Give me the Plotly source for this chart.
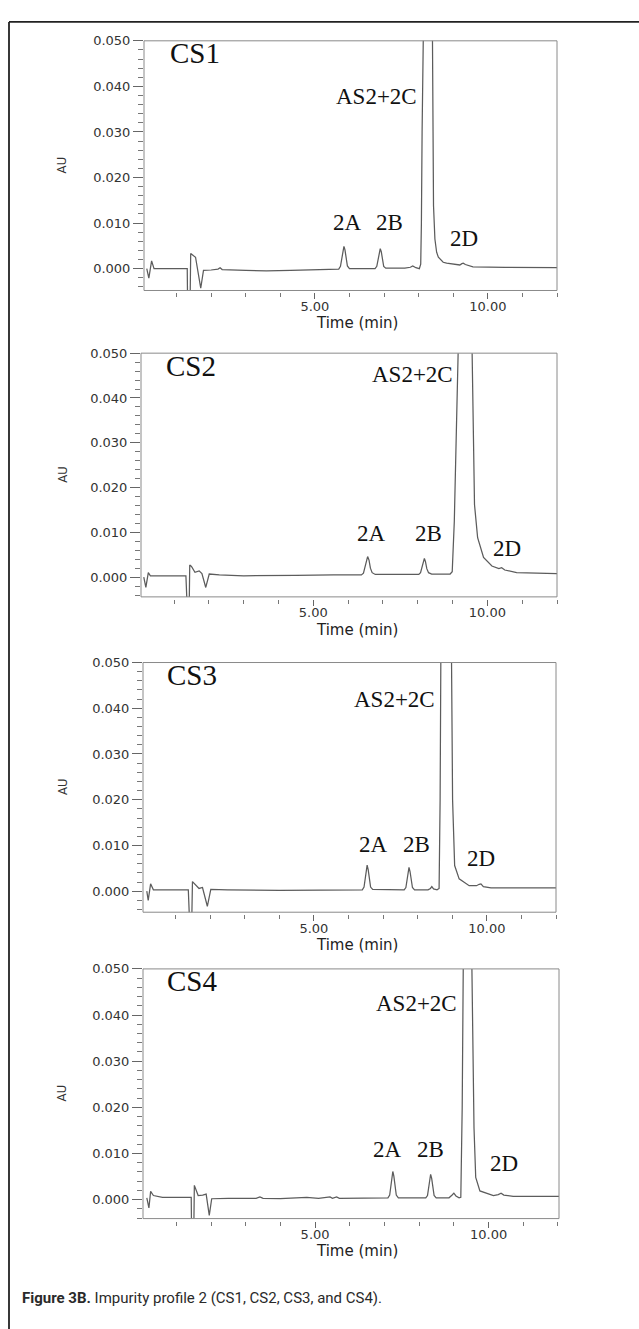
import plotly.graph_objects as go

# ---------------- data ----------------
panel_names = ["CS1", "CS2", "CS3", "CS4"]

t_cs1 = [0.14, 0.20, 0.28, 0.35, 1.29, 1.31, 1.33, 1.38, 1.41, 1.47, 1.55, 1.70, 1.78, 2.00, 2.20, 2.26,
         2.32, 3.00, 3.60, 4.30, 5.00, 5.60,
         5.69, 5.74, 5.78, 5.81, 5.84, 5.87, 5.90, 5.94, 6.00,
         6.60, 6.74, 6.79, 6.83, 6.86, 6.89, 6.92, 6.95, 6.99, 7.05,
         7.60, 7.76, 7.83, 7.92, 8.02, 8.06, 8.08, 8.10, 8.11, 8.25, 8.40, 8.43, 8.47, 8.52, 8.57,
         8.71, 8.81, 9.19, 9.25, 9.29, 9.35, 9.57, 10.50, 12.00]
au_cs1 = [0.0000, -0.0021, 0.0017, 0.0000, 0.0000, 0.0000, -0.0150, -0.0150, 0.0033, 0.0029, 0.0025,
          -0.0043, -0.0004, -0.0003, -0.0001, 0.0002, -0.0002, -0.0004, -0.0005, -0.0004, -0.0002, -0.0001,
          -0.0001, 0.0005, 0.0022, 0.0041, 0.0049, 0.0041, 0.0022, 0.0006, 0.0000,
          0.0000, 0.0000, 0.0005, 0.0020, 0.0037, 0.0044, 0.0037, 0.0020, 0.0005, 0.0001,
          0.0001, 0.0003, 0.0006, 0.0002, 0.0000, 0.0010, 0.0100, 0.0300, 0.0500, 0.1200, 0.0500,
          0.0138, 0.0065, 0.0036, 0.0025, 0.0014, 0.0012, 0.0008, 0.0011, 0.0012, 0.0009, 0.0004,
          0.0003, 0.0002]

t_cs2 = [0.13, 0.19, 0.26, 0.32, 1.34, 1.37, 1.42, 1.45, 1.50, 1.60, 1.72, 1.80, 1.91, 2.01, 2.30, 3.00,
         3.68, 4.50, 5.58, 6.30,
         6.38, 6.44, 6.48, 6.52, 6.56, 6.60, 6.64, 6.69, 6.78,
         7.60, 7.90,
         8.03, 8.08, 8.12, 8.16, 8.19, 8.22, 8.26, 8.31, 8.40,
         8.93, 8.99, 9.05, 9.10, 9.16, 9.36, 9.57, 9.59, 9.63, 9.72, 9.89, 10.13, 10.33, 10.41, 10.50,
         10.84, 12.00]
au_cs2 = [0.0000, -0.0023, 0.0010, 0.0003, 0.0003, -0.0150, -0.0150, 0.0027, 0.0024, 0.0011, 0.0014,
          0.0008, -0.0023, 0.0007, 0.0005, 0.0003, 0.0003, 0.0004, 0.0005, 0.0005,
          0.0005, 0.0009, 0.0022, 0.0039, 0.0046, 0.0038, 0.0020, 0.0010, 0.0006,
          0.0006, 0.0006,
          0.0006, 0.0010, 0.0022, 0.0036, 0.0042, 0.0035, 0.0019, 0.0010, 0.0007,
          0.0007, 0.0012, 0.0125, 0.0300, 0.0500, 0.1500, 0.0500, 0.0310, 0.0162, 0.0088, 0.0044,
          0.0025, 0.0019, 0.0021, 0.0016, 0.0010, 0.0008]

t_cs3 = [0.17, 0.21, 0.28, 0.36, 1.37, 1.40, 1.45, 1.49, 1.56, 1.68, 1.78, 1.92, 2.02, 2.50, 4.00, 5.50,
         6.35,
         6.40, 6.45, 6.48, 6.51, 6.54, 6.57, 6.60, 6.64, 6.70,
         7.61, 7.66, 7.69, 7.72, 7.75, 7.78, 7.81, 7.85, 7.91,
         8.30, 8.37, 8.41, 8.46, 8.56, 8.62, 8.65, 8.67, 8.82, 8.98, 9.01, 9.07, 9.20, 9.49, 9.70, 9.78,
         9.83, 9.90, 10.12, 12.00]
au_cs3 = [0.0000, -0.0020, 0.0016, 0.0003, 0.0003, -0.0150, -0.0150, 0.0021, 0.0015, 0.0006, 0.0008,
          -0.0033, 0.0004, 0.0003, 0.0002, 0.0003, 0.0003,
          0.0003, 0.0009, 0.0027, 0.0048, 0.0057, 0.0047, 0.0026, 0.0009, 0.0004,
          0.0003, 0.0008, 0.0024, 0.0044, 0.0052, 0.0043, 0.0023, 0.0008, 0.0003,
          0.0003, 0.0006, 0.0010, 0.0005, 0.0003, 0.0006, 0.0200, 0.0500, 0.1500, 0.0500, 0.0200,
          0.0056, 0.0027, 0.0012, 0.0012, 0.0015, 0.0016, 0.0010, 0.0007, 0.0007]

t_cs4 = [0.15, 0.21, 0.26, 0.34, 0.60, 1.43, 1.45, 1.49, 1.52, 1.57, 1.63, 1.76, 1.86, 1.95, 2.02, 2.50,
         3.30, 3.41, 3.50, 4.00, 4.76, 5.10, 5.43, 5.50, 5.62, 5.70, 6.50,
         7.10, 7.15, 7.18, 7.21, 7.24, 7.27, 7.30, 7.34, 7.40,
         8.19, 8.24, 8.27, 8.30, 8.33, 8.36, 8.39, 8.43, 8.49,
         8.70, 8.79, 8.86, 8.95, 9.00, 9.06, 9.15, 9.20, 9.24, 9.27, 9.40, 9.52, 9.58, 9.63, 9.75,
         10.14, 10.28, 10.36, 10.44, 10.71, 12.03]
au_cs4 = [0.0004, -0.0018, 0.0018, 0.0009, 0.0005, 0.0005, -0.0150, -0.0150, 0.0031, 0.0020, 0.0009,
          0.0010, 0.0012, -0.0034, 0.0002, 0.0003, 0.0003, 0.0006, 0.0003, 0.0002, 0.0005, 0.0003,
          0.0006, 0.0003, 0.0006, 0.0003, 0.0004,
          0.0004, 0.0010, 0.0029, 0.0052, 0.0061, 0.0051, 0.0028, 0.0010, 0.0004,
          0.0004, 0.0009, 0.0026, 0.0047, 0.0055, 0.0046, 0.0025, 0.0009, 0.0004,
          0.0004, 0.0005, 0.0004, 0.0010, 0.0014, 0.0008, 0.0004, 0.0005, 0.0200, 0.0500, 0.1500,
          0.0500, 0.0156, 0.0048, 0.0019, 0.0009, 0.0011, 0.0014, 0.0010, 0.0007, 0.0007]

times = [t_cs1, t_cs2, t_cs3, t_cs4]
signals = [au_cs1, au_cs2, au_cs3, au_cs4]

# peak labels: (text, time, AU)
peak_labels = [
    [("AS2+2C", 6.78, 0.0365), ("2A", 5.94, 0.0087), ("2B", 7.17, 0.0087), ("2D", 9.31, 0.0054)],
    [("AS2+2C", 7.86, 0.0440), ("2A", 6.67, 0.0084), ("2B", 8.31, 0.0084), ("2D", 10.57, 0.0051)],
    [("AS2+2C", 7.34, 0.0407), ("2A", 6.72, 0.0088), ("2B", 7.96, 0.0088), ("2D", 9.83, 0.0058)],
    [("AS2+2C", 7.93, 0.0411), ("2A", 7.09, 0.0096), ("2B", 8.33, 0.0096), ("2D", 10.45, 0.0066)],
]
name_pos = [(1.53, 0.0454), (1.48, 0.0451), (1.48, 0.0454), (1.45, 0.0455)]

y_tickvals = [0.0, 0.01, 0.02, 0.03, 0.04, 0.05]
y_ticktext = ["0.000", "0.010", "0.020", "0.030", "0.040", "0.050"]
x_tickvals = [5, 10]
x_ticktext = ["5.00", "10.00"]
x_minorvals = [1, 2, 3, 4, 6, 7, 8, 9, 11, 12]

caption = "<b>Figure 3B.</b> Impurity profile 2 (CS1, CS2, CS3, and CS4)."

# ---------------- layout geometry (pixels) ----------------
W, H = 639, 1329
# (left, right, top, bottom) of each plot area
boxes = [(144, 557, 34, 285), (141, 557, 348, 593), (143, 556, 659, 910), (143, 559, 967, 1218)]
x_ranges = [[0.06, 12.0], [0.05, 12.0], [0.06, 12.0], [0.04, 12.03]]
y_ranges = [[-0.0048, 0.050], [-0.0044, 0.050], [-0.0046, 0.050], [-0.0041, 0.050]]


def px(x):
    return x / W


def py(y):
    return 1 - y / H


fig = go.Figure()
annotations = []
shapes = []
layout = {}

tick_font = dict(family="DejaVu Sans, Arial, sans-serif", size=13, color="#333333")
serif = "Liberation Serif, Times New Roman, serif"

for i in range(4):
    k = "" if i == 0 else str(i + 1)
    l, r, t, b = boxes[i]
    fig.add_trace(go.Scatter(
        x=times[i], y=signals[i], mode="lines",
        line=dict(color="#5c5c5c", width=1.25),
        xaxis="x" + k, yaxis="y" + k, showlegend=False, hoverinfo="skip"))

    layout["xaxis" + k] = dict(
        domain=[px(l), px(r)], range=x_ranges[i], anchor="free",
        position=py(b + 2), showgrid=False, zeroline=False, showline=False,
        tickmode="array", tickvals=x_tickvals, ticktext=x_ticktext,
        ticks="outside", ticklen=6, tickwidth=1, tickcolor="#666666",
        tickfont=tick_font, ticklabelstandoff=-4,
        minor=dict(tickmode="array", tickvals=x_minorvals, ticks="outside",
                   ticklen=4, tickwidth=1, tickcolor="#777777", showgrid=False),
    )
    layout["yaxis" + k] = dict(
        domain=[py(b), py(t)], range=y_ranges[i], anchor="x" + k,
        showgrid=False, zeroline=False, showline=False,
        tickmode="array", tickvals=y_tickvals, ticktext=y_ticktext,
        ticks="outside", ticklen=10, tickwidth=1, tickcolor="#666666",
        tickfont=tick_font,
        minor=dict(dtick=0.002, tick0=0, ticks="outside", ticklen=5, tickwidth=1,
                   tickcolor="#777777", showgrid=False),
    )
    # plot frame
    shapes.append(dict(type="rect", xref="x" + k + " domain", yref="y" + k + " domain",
                       x0=0, x1=1, y0=0, y1=1, line=dict(color="#8a8a8a", width=1),
                       layer="above"))
    # panel name
    annotations.append(dict(text=panel_names[i], x=name_pos[i][0], y=name_pos[i][1],
                            xref="x" + k, yref="y" + k, showarrow=False, yshift=9,
                            font=dict(family=serif, size=29, color="#111111")))
    for (txt, xv, yv) in peak_labels[i]:
        annotations.append(dict(text=txt, x=xv, y=yv, xref="x" + k, yref="y" + k,
                                showarrow=False, yshift=6,
                                font=dict(family=serif, size=23, color="#111111")))
    # axis titles
    annotations.append(dict(text="Time (min)", x=px(357), y=py(b + 33), xref="paper",
                            yref="paper", xanchor="center", yanchor="middle", showarrow=False,
                            font=dict(family="DejaVu Sans, Arial, sans-serif", size=15,
                                      color="#222222")))
    annotations.append(dict(text="AU", x=px(62), y=py((t + b) / 2), xref="paper",
                            yref="paper", xanchor="center", yanchor="middle",
                            showarrow=False, textangle=-90,
                            font=dict(family="Roboto, Arial, sans-serif",
                                      size=13, color="#333333")))

# outer border (top + left)
shapes.append(dict(type="line", xref="paper", yref="paper", x0=px(9), x1=1.0,
                   y0=py(15), y1=py(15), line=dict(color="#222222", width=1.6)))
shapes.append(dict(type="line", xref="paper", yref="paper", x0=px(9), x1=px(9),
                   y0=py(15), y1=0.0, line=dict(color="#222222", width=1.8)))

annotations.append(dict(text=caption, x=px(20), y=py(1298), xref="paper", yref="paper",
                        xanchor="left", yanchor="middle", showarrow=False,
                        font=dict(family="Roboto, Liberation Sans, sans-serif",
                                  size=15, color="#2a2a2a")))

fig.update_layout(
    width=W, height=H, autosize=False,
    margin=dict(l=0, r=0, t=0, b=0),
    paper_bgcolor="white", plot_bgcolor="white",
    annotations=annotations, shapes=shapes,
    **layout,
)

fig.write_html("out.html")
